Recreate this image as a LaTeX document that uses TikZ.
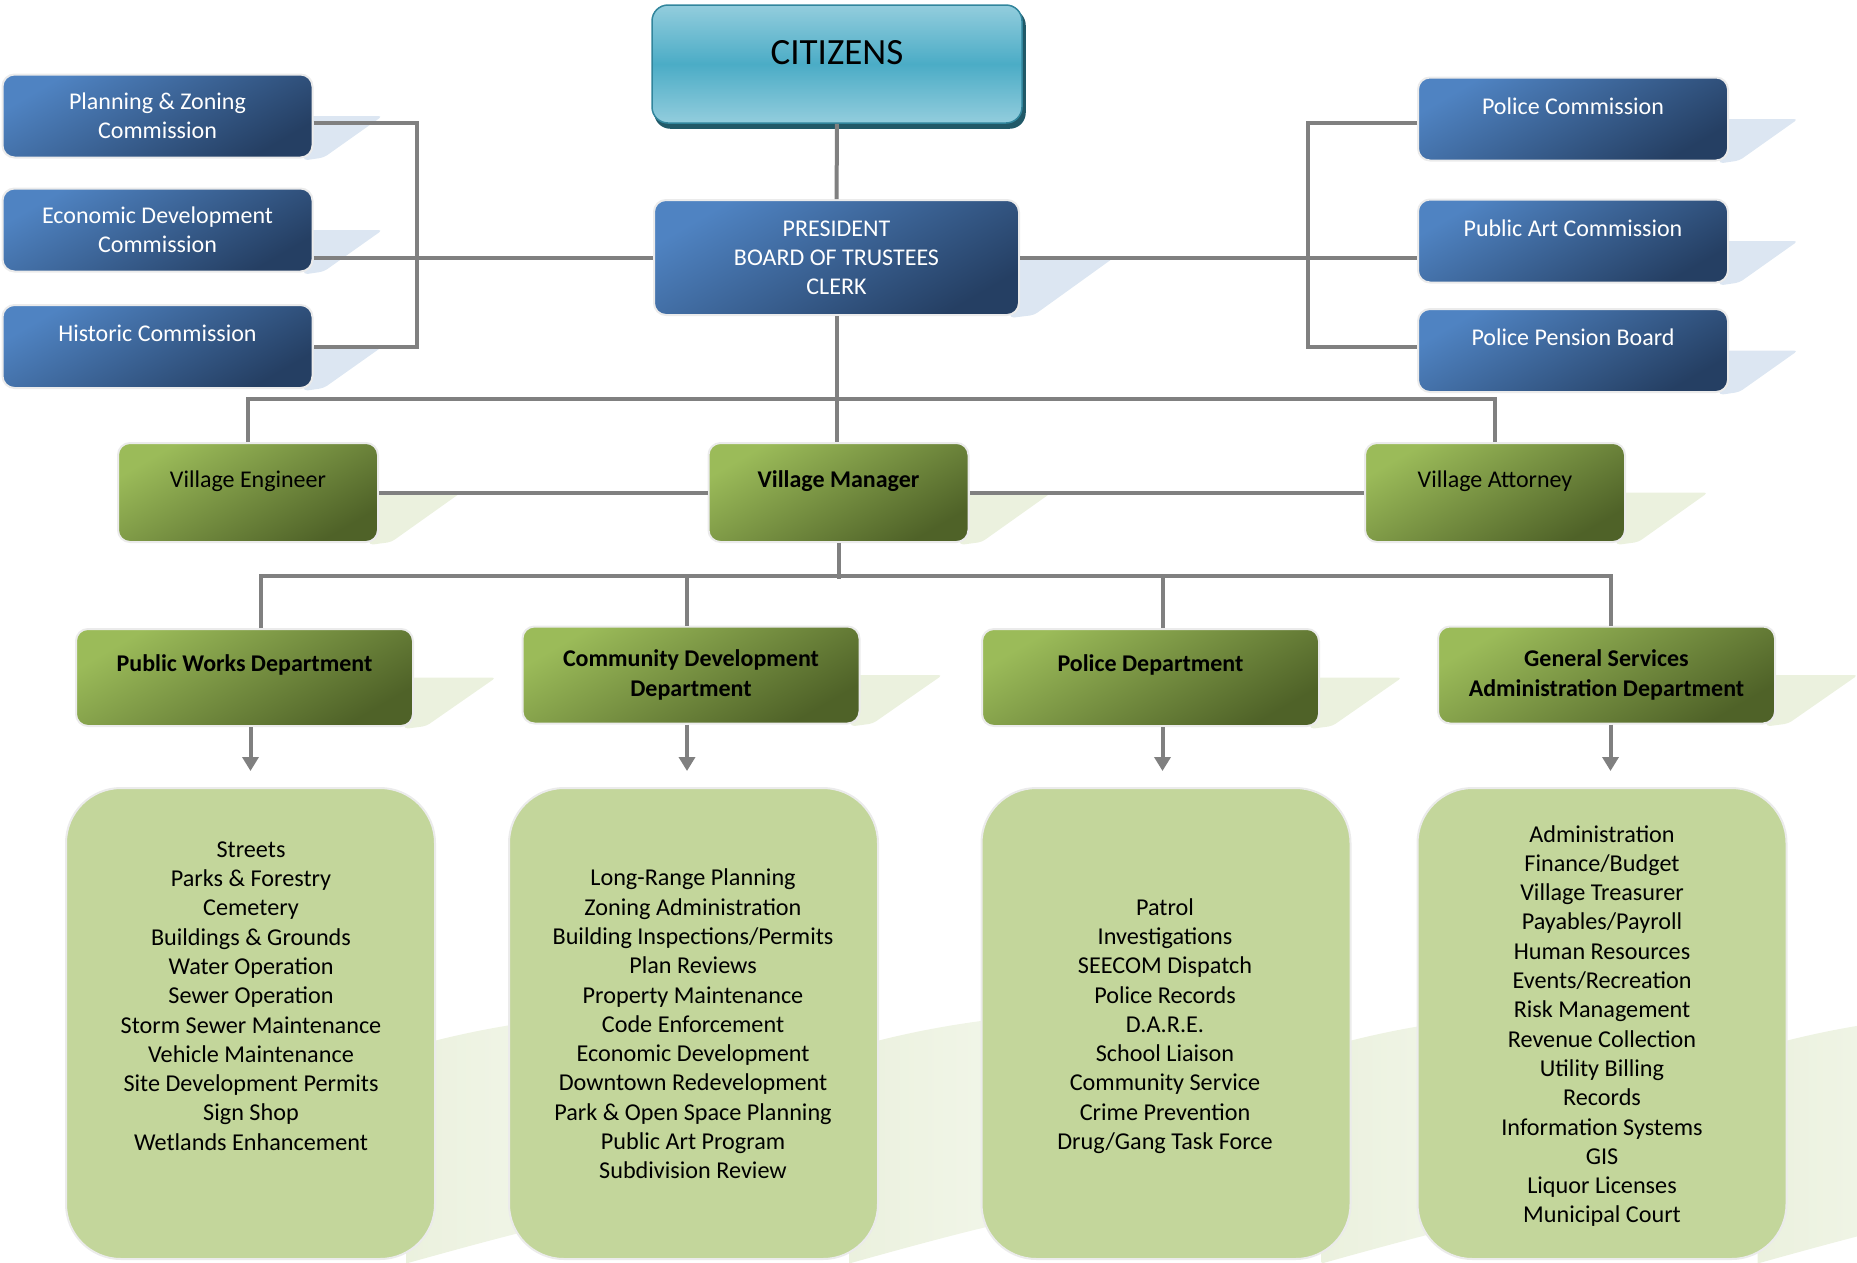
\documentclass[tikz,border=0pt]{standalone}
\usepackage{fontspec}
\setmainfont{Carlito}
\usepackage{xcolor}
\usepackage{tikz}
\usetikzlibrary{arrows.meta,calc}
\definecolor{cBlueL}{HTML}{4F83C2}
\definecolor{cBlueD}{HTML}{253F63}
\definecolor{cBlueS}{HTML}{DCE6F2}
\definecolor{cGrnL}{HTML}{9BBB59}
\definecolor{cGrnD}{HTML}{4F6228}
\definecolor{cGrnS}{HTML}{EBF1DE}
\definecolor{cList}{HTML}{C3D69B}
\definecolor{cTealL}{HTML}{93CDDD}
\definecolor{cTealM}{HTML}{4BACC6}
\definecolor{cTealE}{HTML}{31859C}
\definecolor{cTealK}{HTML}{215968}
\definecolor{cLine}{HTML}{808080}
\pgfdeclarelayer{back}
\pgfsetlayers{back,main}
\tikzset{
  link/.style={draw=cLine,line width=4pt},
  arr/.style={link,-{Triangle[width=16pt,length=14pt]}},
  glow/.style={draw=white!92!black,line width=2pt},
  citbox/.style={rectangle,rounded corners=16pt,draw=cTealE,line width=1.5pt,
    top color=cTealL,bottom color=cTealL,middle color=cTealM,
    minimum width=370pt,minimum height=118pt,inner sep=0pt,
    text height=13pt,text depth=13pt,font=\fontsize{37}{42}\selectfont},
  bluebox/.style={rectangle,rounded corners=12pt,glow,
    top color=cBlueL,bottom color=cBlueD,shading angle=30,
    text=white,align=center,inner sep=0pt,
    minimum width=310pt,minimum height=83pt,font=\fontsize{24}{29}\selectfont},
  greenbox/.style={rectangle,rounded corners=12pt,glow,
    top color=cGrnL,bottom color=cGrnD,shading angle=30,
    text=black,align=center,inner sep=0pt,
    minimum width=260pt,minimum height=99pt,font=\fontsize{24}{29}\selectfont},
  dept/.style={greenbox,minimum width=337pt,minimum height=97pt,
    font=\bfseries\fontsize{24}{30.5}\selectfont},
  upper/.style={text height=16pt,text depth=26pt},
  listbox/.style={rectangle,rounded corners=55pt,glow,fill=cList,
    minimum width=369pt,minimum height=471pt},
  listtext/.style={align=center,inner sep=0pt,font=\fontsize{24.2}{29.3}\selectfont}
}
% flat shadow to the right of a box
\newcommand{\flap}[3]{%
  \fill[#2,rounded corners=4pt] ([xshift=-10pt]#1.east) -- ++(#3+10,0)
    -- ([xshift=#3*0.15pt,yshift=1pt]#1.south east)
    -- ([xshift=-10pt,yshift=-2pt]#1.south east) -- cycle;}
% curved shadow behind a list box
\newcommand{\swoosh}[1]{%
  \shade[left color=cGrnS,right color=cGrnS!45!white]
    ([xshift=-30pt,yshift=-25pt]#1.east)
    .. controls ([xshift=60pt,yshift=1pt]#1.east) and ([xshift=150pt,yshift=11pt]#1.east)
    .. ([xshift=230pt,yshift=11pt]#1.east)
    -- ([xshift=230pt,yshift=-180pt]#1.east)
    .. controls ([xshift=150pt,yshift=-190pt]#1.east) and ([xshift=60pt,yshift=-215pt]#1.east)
    .. ([xshift=-30pt,yshift=-240pt]#1.east) -- cycle;}

\begin{document}
\begin{tikzpicture}[x=1pt,y=-1pt]
  \useasboundingbox (0,0) rectangle (1857,1262);
  % top
  \node[citbox] (cit) at (837,64) {CITIZENS};
  \node[bluebox,minimum width=365pt,minimum height=115pt]
    (pres) at (836.5,257.5) {PRESIDENT\\BOARD OF TRUSTEES\\CLERK};
  % commissions
  \node[bluebox] (plan) at (157.5,116) {Planning \& Zoning\\Commission};
  \node[bluebox] (econ) at (157.5,230) {Economic Development\\Commission};
  \node[bluebox,upper] (hist) at (157.5,346.5) {Historic Commission};
  \node[bluebox,upper] (pcom) at (1573,119) {Police Commission};
  \node[bluebox,upper] (part) at (1573,241) {Public Art Commission};
  \node[bluebox,upper] (ppen) at (1573,350.5) {Police Pension Board};
  % staff
  \node[greenbox,upper] (veng) at (248,492.5) {Village Engineer};
  \node[greenbox,upper,font=\bfseries\fontsize{24}{29}\selectfont] (vman) at (838.5,492.5) {Village Manager};
  \node[greenbox,upper] (vatt) at (1495,492.5) {Village Attorney};
  % departments
  \node[dept,upper,text depth=28pt] (pw) at (244.5,677.5) {Public Works Department};
  \node[dept] (cd) at (691,675) {Community Development\\Department};
  \node[dept,upper,text depth=28pt] (pd) at (1150.5,677.5) {Police Department};
  \node[dept] (gs) at (1606.5,675) {General Services\\Administration Department};
  % lists
  \node[listbox] (pw-l) at (250.5,1023.5) {};
  \node[listbox] (cd-l) at (693.5,1023.5) {};
  \node[listbox] (pd-l) at (1166,1023.5) {};
  \node[listbox] (gs-l) at (1602,1023.5) {};
  \node[listtext] (pw-t) at (251,996) {Streets\\Parks \& Forestry\\Cemetery\\Buildings \& Grounds\\Water Operation\\Sewer Operation\\Storm Sewer Maintenance\\Vehicle Maintenance\\Site Development Permits\\Sign Shop\\Wetlands Enhancement};
  \node[listtext] (cd-t) at (693,1024) {Long-Range Planning\\Zoning Administration\\Building Inspections/Permits\\Plan Reviews\\Property Maintenance\\Code Enforcement\\Economic Development\\Downtown Redevelopment\\Park \& Open Space Planning\\Public Art Program\\Subdivision Review};
  \node[listtext] (pd-t) at (1165,1026) {Patrol\\Investigations\\SEECOM Dispatch\\Police Records\\D.A.R.E.\\School Liaison\\Community Service\\Crime Prevention\\Drug/Gang Task Force};
  \node[listtext] (gs-t) at (1602,1026) {Administration\\Finance/Budget\\Village Treasurer\\Payables/Payroll\\Human Resources\\Events/Recreation\\Risk Management\\Revenue Collection\\Utility Billing\\Records\\Information Systems\\GIS\\Liquor Licenses\\Municipal Court};
  % shadows
  \begin{pgfonlayer}{back}
    \fill[cTealK,rounded corners=16pt] ([shift={(3pt,-5pt)}]cit.south west) rectangle ([shift={(3pt,-5pt)}]cit.north east);
    \flap{pres}{cBlueS}{94}
    \foreach \b in {plan,econ,hist,pcom,part,ppen} {\flap{\b}{cBlueS}{69}}
    \foreach \b in {veng,vman,vatt} {\flap{\b}{cGrnS}{82}}
    \foreach \b in {pw,cd,pd,gs} {\flap{\b}{cGrnS}{82}}
    \begin{scope}
      \clip (0,0) rectangle (1857,1262);
      \foreach \b in {pw-l,cd-l,pd-l,gs-l} {\swoosh{\b}}
    \end{scope}
  \end{pgfonlayer}
  % connectors
  \draw[link] (cit) -- (pres);
  \draw[link] ([yshift=-7pt]plan.east) -- ++(103,0) |- (hist.east);
  \draw[link] (pres.west -| econ.east) -- (pres.west);
  \draw[link] ([yshift=-4pt]pcom.west) -- ++(-109,0) |- ([yshift=4pt]ppen.west);
  \draw[link] (pres.east) -- (pres.east -| part.west);
  \draw[link] (pres.south) -- (pres.south |- vman.north);
  \draw[link] (veng.north) -- ++(0,-43) -| (vatt.north);
  \draw[link] (veng.east) -- (vman.west);
  \draw[link] (vman.east) -- (vatt.west);
  \draw[link] (vman.south) -- ++(0,36);
  \draw[link] ([xshift=16pt]pw.north) -- ++(0,-52) -| ([xshift=4pt]gs.north);
  \draw[link] ([xshift=-4pt]cd.north) -- ++(0,-50);
  \draw[link] ([xshift=12pt]pd.north) -- ++(0,-52);
  \foreach \d/\s in {pw/6,cd/-4,pd/12,gs/4}
    \draw[arr,shorten >=16pt] ([xshift=\s pt]\d.south) -- ([xshift=\s pt]\d.south |- \d-l.north);
\end{tikzpicture}
\end{document}
